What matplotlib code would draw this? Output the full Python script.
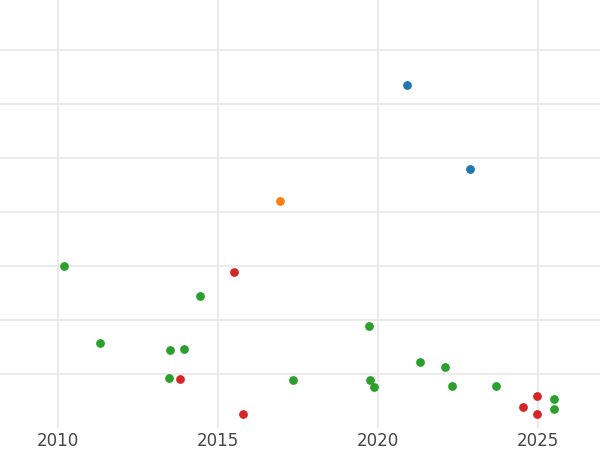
import matplotlib
matplotlib.use("Agg")
import matplotlib.pyplot as plt

# points by colour group (year, value)
blue_x = [2020.91, 2022.88]
blue_y = [6.35, 4.80]
orange_x = [2016.94]
orange_y = [4.20]
red_x = [2015.50, 2013.81, 2015.78, 2024.53, 2024.97, 2024.97]
red_y = [2.89, 0.91, 0.26, 0.39, 0.59, 0.26]
green_x = [2010.19, 2014.44, 2011.31, 2013.50, 2013.94, 2013.47, 2017.34, 2019.72,
           2019.75, 2019.88, 2021.31, 2022.09, 2022.31, 2023.69, 2025.50, 2025.50]
green_y = [3.00, 2.44, 1.57, 1.44, 1.46, 0.93, 0.89, 1.89,
           0.89, 0.76, 1.22, 1.13, 0.78, 0.78, 0.54, 0.35]
xticks = [2010, 2015, 2020, 2025]

fig = plt.figure(figsize=(6, 4.5), dpi=100)
ax = fig.add_axes([0, 0.049, 1, 0.951])

for xs, ys, c in [(blue_x, blue_y, "#1f77b4"), (orange_x, orange_y, "#ff7f0e"),
                  (red_x, red_y, "#d62728"), (green_x, green_y, "#2ca02c")]:
    ax.scatter(xs, ys, s=40, color=c, zorder=3, linewidths=0)

ax.set_xlim(2008.19, 2026.94)
ax.set_ylim(0, 7.93)
ax.set_xticks(xticks)
ax.set_yticks([1, 2, 3, 4, 5, 6, 7])
ax.set_yticklabels([])
ax.grid(True, color="#e8e8e8", linewidth=1.2)
ax.tick_params(length=0, labelsize=12, labelcolor="#444444", pad=3)
for s in ax.spines.values():
    s.set_visible(False)

fig.savefig("out.png")
